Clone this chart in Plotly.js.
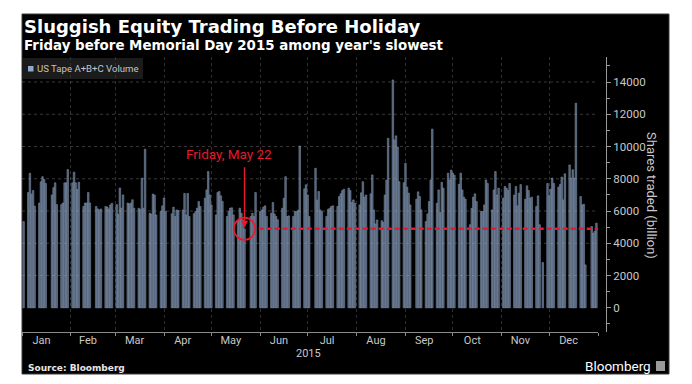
<!DOCTYPE html>
<html><head><meta charset="utf-8">
<script src="https://cdn.plot.ly/plotly-3.0.1.min.js"></script>
<style>html,body{margin:0;padding:0;background:#fff;}#chart{width:692px;height:384px;}</style>
</head><body><div id="chart"></div>
<script>
// ---- text ----
const titleText = 'Sluggish Equity Trading Before Holiday';
const subtitleText = "Friday before Memorial Day 2015 among year's slowest";
const seriesName = 'US Tape A+B+C Volume';
const yTitleText = 'Shares traded (billion)';
const calloutText = 'Friday, May 22';
const calloutDate = '2015-05-22';
const sourceText = 'Source: Bloomberg';
const brandText = 'Bloomberg';
const yearLabel = '2015';
const yTickVals = [0, 2000, 4000, 6000, 8000, 10000, 12000, 14000];

// ---- data: trading days (day of month) and volume per month ----
const janDays = [2,5,6,7,8,9,12,13,14,15,16,20,21,22,23,26,27,28,29,30];
const janVol  = [5350,7150,8340,7050,7270,6300,6500,7820,8130,7960,7710,7000,7450,7750,6400,6400,6500,7750,7750,8570];
const febDays = [2,3,4,5,6,9,10,11,12,13,17,18,19,20,23,24,25,26,27];
const febVol  = [7750,8410,7750,7330,7780,6280,6500,6500,7150,6500,6280,6130,6050,6130,6280,6250,6130,6380,6480];
const marDays = [2,3,4,5,6,9,10,11,12,13,16,17,18,19,20,23,24,25,26,27,30,31];
const marVol  = [6400,5800,7430,6180,7000,6500,6440,6500,6700,6170,6170,6100,8040,6170,9830,5860,5800,7050,6990,5760,5970,6320];
const aprDays = [1,2,6,7,8,9,10,13,14,15,16,17,20,21,22,23,24,27,28,29,30];
const aprVol  = [6810,5970,5830,6240,5660,6070,6030,6070,7090,5760,7090,5660,5830,5970,6180,6590,6280,6800,7310,8450,7000];
const mayDays = [1,4,5,6,7,8,11,12,13,14,15,18,19,20,21,22,26,27,28,29];
const mayVol  = [6380,5760,7145,7210,6940,6590,5660,5970,6180,6200,5760,5450,6180,5860,5450,4900,5660,5860,5660,7150];
const junDays = [1,2,3,4,5,8,9,10,11,12,15,16,17,18,19,22,23,24,25,26,29,30];
const junVol  = [5970,6070,6240,6320,5660,5860,6530,5820,5660,5460,6170,6790,8130,5660,5700,5660,5970,5970,6050,10030,7380,7630];
const julDays = [1,2,6,7,8,9,10,13,14,15,16,17,20,21,22,23,24,27,28,29,30,31];
const julVol  = [6990,5660,8650,6680,7210,6070,5970,5660,6110,6170,6280,6320,6280,6900,7070,7270,7350,7420,7270,6530,6690,6480];
const augDays = [3,4,5,6,7,10,11,12,13,14,17,18,19,20,21,24,25,26,27,28,31];
const augVol  = [6380,7130,7820,6860,6990,7070,8240,6070,5200,5450,5400,5300,6990,7920,10510,14130,10410,10660,9960,7820,7760];
const sepDays = [1,2,3,4,8,9,10,11,14,15,16,17,18,21,22,23,24,25,28,29,30];
const sepVol  = [8960,7480,7110,6380,6730,7190,6900,6070,5350,5820,6590,7920,11080,6480,7310,5910,7780,7420,8350,7920,8540];
const octDays = [1,2,5,6,7,8,9,12,13,14,15,16,19,20,21,22,23,26,27,28,29,30];
const octVol  = [8350,8220,7660,8350,7310,6860,6730,5150,6170,6860,7070,6590,5970,5970,6380,7920,7710,6070,7310,8450,6990,7420];
const novDays = [2,3,4,5,6,9,10,11,12,13,16,17,18,19,20,23,24,25,27,30];
const novVol  = [6800,7520,7420,7270,7710,6990,7520,6320,7110,7640,6730,7560,7270,6800,6860,6280,6940,5150,2810,7710];
const decDays = [1,2,3,4,7,8,9,10,11,14,15,16,17,18,21,22,23,24,28,29,30,31];
const decVol  = [6940,7350,8040,7710,7480,7640,8110,6690,8310,8860,8040,8560,8040,12680,6900,6380,6420,2660,5040,4630,4750,5250];

const monthDays = [janDays,febDays,marDays,aprDays,mayDays,junDays,julDays,augDays,sepDays,octDays,novDays,decDays];
const monthVols = [janVol,febVol,marVol,aprVol,mayVol,junVol,julVol,augVol,sepVol,octVol,novVol,decVol];

const xs = [], ys = [];
monthDays.forEach((days, m) => {
  days.forEach((d, i) => {
    xs.push('2015-' + String(m + 1).padStart(2, '0') + '-' + String(d).padStart(2, '0'));
    ys.push(monthVols[m][i]);
  });
});
const calloutVal = ys[xs.indexOf(calloutDate)];

// ---- geometry helpers (pixel -> paper) ----
const W = 692, H = 384, ML = 22, MR = 86, MT = 57, MB = 52;
const PWd = W - ML - MR, PHt = H - MT - MB;
const px = p => (p - ML) / PWd;
const py = p => (H - MB - p) / PHt;
const DAY = 86400000;
const shiftDate = (s, days) => new Date(new Date(s + 'T00:00:00Z').getTime() + days * DAY).toISOString().slice(0, 19).replace('T', ' ');

const red = '#e8192c';
const shapes = [
  {type:'rect', xref:'paper', yref:'paper', x0:px(22), x1:px(669), y0:py(374), y1:py(14),
   fillcolor:'#000', line:{color:'#3a3a3a', width:1}, layer:'below'},
  {type:'rect', xref:'paper', yref:'paper', x0:px(23), x1:px(143), y0:py(79), y1:py(58),
   fillcolor:'#1b1b1b', line:{width:0}, layer:'below'},
  {type:'rect', xref:'paper', yref:'paper', x0:px(28), x1:px(33.5), y0:py(71.5), y1:py(66),
   fillcolor:'#8fa9c9', line:{width:0}},
  {type:'rect', xref:'paper', yref:'paper', x0:px(656), x1:px(665), y0:py(371), y1:py(361),
   fillcolor:'#9a9a9a', line:{width:0}},
];
yTickVals.forEach(v => {
  if (v === 0) return;
  shapes.push({type:'line', xref:'paper', yref:'y', x0:0, x1:576/584, y0:v, y1:v,
    line:{color:'rgba(160,160,160,0.35)', width:1, dash:'dot'}, layer:'above'});
});
shapes.push({type:'circle', xref:'x', yref:'y', x0:shiftDate(calloutDate,-6.8), x1:shiftDate(calloutDate,6.8),
  y0:calloutVal-690, y1:calloutVal+690, line:{color:red, width:1.6}, layer:'above'});
shapes.push({type:'line', xref:'x', yref:'y', x0:shiftDate(calloutDate,9), x1:'2016-01-04', y0:calloutVal, y1:calloutVal,
  line:{color:red, width:2.4, dash:'5px,3px'}, layer:'above'});

const annotations = [
  {xref:'paper', yref:'paper', x:px(22), y:py(26.6), xanchor:'left', yanchor:'middle', showarrow:false,
   text:'<b>' + titleText + '</b>', font:{family:'DejaVu Sans, sans-serif', size:18, color:'#fff'}},
  {xref:'paper', yref:'paper', x:px(22), y:py(45.6), xanchor:'left', yanchor:'middle', showarrow:false,
   text:'<b>' + subtitleText + '</b>', font:{family:'DejaVu Sans, sans-serif', size:13.4, color:'#fff'}},
  {xref:'paper', yref:'paper', x:px(35), y:py(68.5), xanchor:'left', yanchor:'middle', showarrow:false,
   text:seriesName, font:{family:'Roboto, sans-serif', size:9.6, color:'#c4c4c4'}},
  {xref:'paper', yref:'paper', x:px(652), y:py(195), xanchor:'center', yanchor:'middle', showarrow:false,
   textangle:90, text:yTitleText, font:{family:'Roboto, sans-serif', size:13, color:'#c8c8c8'}},
  {xref:'paper', yref:'paper', x:px(308), y:py(353), xanchor:'center', yanchor:'middle', showarrow:false,
   text:yearLabel, font:{family:'Roboto, sans-serif', size:11, color:'#c8c8c8'}},
  {xref:'paper', yref:'paper', x:px(26), y:py(368), xanchor:'left', yanchor:'middle', showarrow:false,
   text:'<b>' + sourceText + '</b>', font:{family:'DejaVu Sans, sans-serif', size:9, color:'#e6e6e6'}},
  {xref:'paper', yref:'paper', x:px(653), y:py(366), xanchor:'right', yanchor:'middle', showarrow:false,
   text:brandText, font:{family:'Roboto, sans-serif', size:13.5, color:'#fff'}},
  {xref:'x', yref:'y', x:calloutDate, y:calloutVal, ax:0, ay:-63, text:'', showarrow:true,
   arrowhead:2, arrowsize:1, arrowwidth:1.4, arrowcolor:red, standoff:1},
  {xref:'x', yref:'y', x:calloutDate, y:calloutVal, xshift:-16, yshift:75, showarrow:false,
   text:calloutText, font:{family:'Roboto, sans-serif', size:13.5, color:red}},
];

const trace = {
  type:'bar', name:seriesName, x:xs, y:ys, width:DAY,
  marker:{color:'#4a5a70', line:{color:'#8a9db6', width:0.5}},
  hoverinfo:'skip', showlegend:false
};

const layout = {
  width:W, height:H, margin:{l:ML, r:MR, t:MT, b:MB, pad:0},
  paper_bgcolor:'#fff', plot_bgcolor:'rgba(0,0,0,0)',
  showlegend:false,
  xaxis:{type:'date', domain:[0, 576/584], range:['2015-01-01','2016-01-01'],
    tick0:'2015-01-01', dtick:'M1', tickformat:'%b', ticklabelmode:'period',
    ticklabelstandoff:-5, ticklabelshift:-5,
    ticks:'outside', ticklen:3, tickcolor:'#8a8a8a', showline:true, linecolor:'#8a8a8a', linewidth:1,
    showgrid:true, gridcolor:'#303030', griddash:'dot', gridwidth:1, zeroline:false,
    tickfont:{family:'Roboto, sans-serif', size:11, color:'#c8c8c8'}},
  yaxis:{side:'right', anchor:'free', position:1, range:[-1500, 15550],
    tickmode:'array', tickvals:yTickVals, tickformat:'d', ticks:'outside', ticklen:4, tickcolor:'#9a9a9a',
    showline:true, linecolor:'#9a9a9a', linewidth:1, showgrid:false, zeroline:false,
    minor:{tick0:0, dtick:1000, ticks:'outside', ticklen:2.5, tickcolor:'#9a9a9a', showgrid:false},
    tickfont:{family:'Roboto, sans-serif', size:11.5, color:'#c8c8c8'}},
  shapes:shapes, annotations:annotations
};

Plotly.newPlot('chart', [trace], layout, {staticPlot:true, displayModeBar:false});
</script></body></html>
